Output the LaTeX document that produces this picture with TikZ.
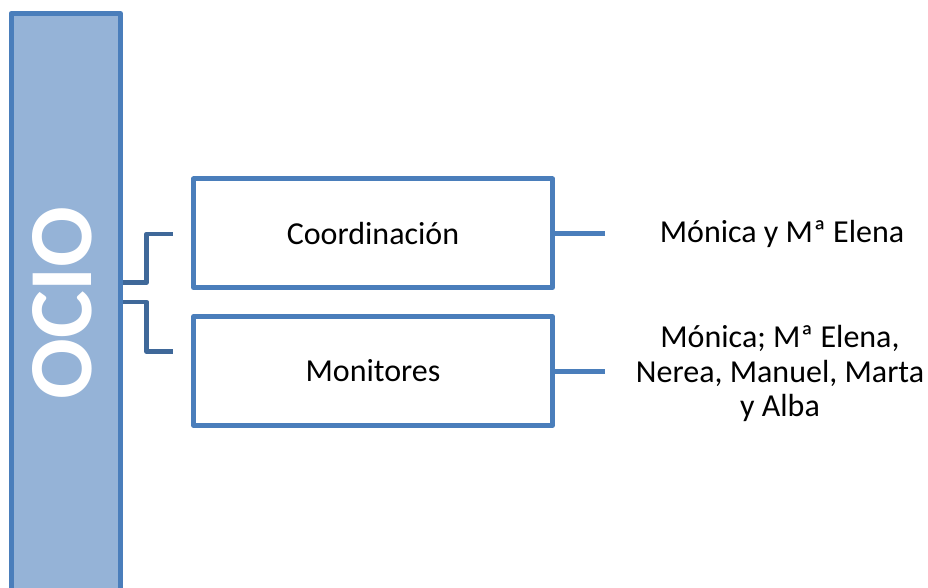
\documentclass[tikz,border=0pt]{standalone}
\usepackage{fontspec}
\setmainfont{Carlito}
\definecolor{barfill}{HTML}{95B3D7}
\definecolor{boxline}{HTML}{4A7EBB}
\definecolor{linkline}{HTML}{3F6899}
\tikzset{
  unitbox/.style={draw=boxline, line width=5pt, line join=round, minimum width=359pt, minimum height=108.5pt, font=\fontsize{32}{38}\selectfont},
  people/.style={align=center, font=\fontsize{32}{34.7}\selectfont},
  link/.style={draw=linkline, line width=4.5pt, line join=round},
  branch/.style={draw=boxline, line width=5pt}
}
\begin{document}
\begin{tikzpicture}[x=1pt, y=-1pt]
        \useasboundingbox (0,0) rectangle (928,588);
        \clip (0,0) rectangle (928,588);

        % Draw the tall bar with its title
        \node[draw=boxline, fill=barfill, line width=5pt, line join=round, minimum width=109.5pt, minimum height=620pt, inner sep=0pt] (ocio) at (65.75,323.5) {};
        \node[rotate=90, text=white, font=\fontsize{90}{90}\selectfont\bfseries] (ociotitle) at (62.5,303) {OCIO};

        % Draw the two boxes
        \node[unitbox] (coord) at (373,233.25) {Coordinación};
        \node[unitbox] (monit) at (373,371) {Monitores};

        % Draw the names on the right
        \node[people] (coordpeople) at (782,234) {Mónica y Mª Elena};
        \node[people] (monitpeople) at (780,373.5) {Mónica; Mª Elena,\\ Nerea, Manuel, Marta\\ y Alba};

        % Draw the lines from the boxes to the names
        \coordinate (coordtip) at (605,233.25);
        \coordinate (monittip) at (605,371);
        \draw[branch] (coord.east) -- (coordtip);
        \draw[branch] (monit.east) -- (monittip);

        % Draw the elbow links from the bar
        \coordinate (coordend) at (172.7,233.8);
        \coordinate (monitend) at (172.7,351.7);
        \draw[link] (ocio.east |- 0,282.5) -- (146.7,282.5) |- (coordend);
        \draw[link] (ocio.east |- 0,302) -- (146.7,302) |- (monitend);
\end{tikzpicture}
\end{document}
